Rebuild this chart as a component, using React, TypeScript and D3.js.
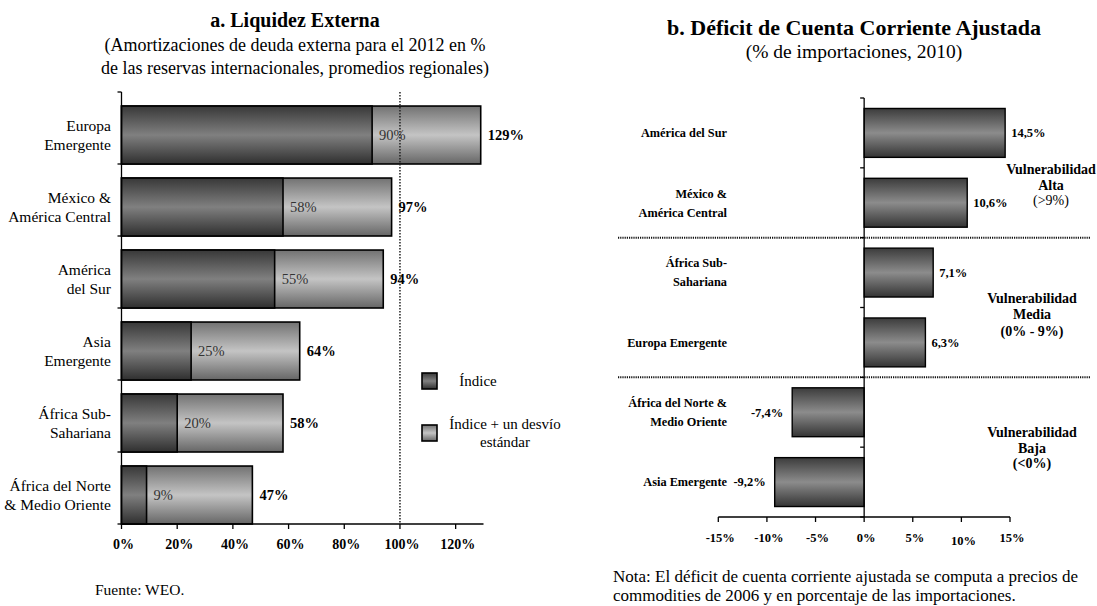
import React from "react";
import * as d3 from "d3";

// ---- Panel a: external liquidity ----
const liqCategories: string[][] = [
  ["Europa", "Emergente"],
  ["México &", "América Central"],
  ["América", "del Sur"],
  ["Asia", "Emergente"],
  ["África Sub-", "Sahariana"],
  ["África del Norte", "& Medio Oriente"],
];
const liqIndex: number[] = [90, 58, 55, 25, 20, 9];
const liqIndexPlusSd: number[] = [129, 97, 94, 64, 58, 47];
const liqTicks: number[] = [0, 20, 40, 60, 80, 100, 120];

// ---- Panel b: adjusted current account deficit ----
const cadCategories: string[][] = [
  ["América del Sur"],
  ["México &", "América Central"],
  ["África Sub-", "Sahariana"],
  ["Europa Emergente"],
  ["África del Norte &", "Medio Oriente"],
  ["Asia Emergente"],
];
const cadValues: number[] = [14.5, 10.6, 7.1, 6.3, -7.4, -9.2];
const cadTicks: number[] = [-15, -10, -5, 0, 5, 10, 15];

const SERIF = "'Liberation Serif', 'Times New Roman', serif";

const pct = (v: number) => `${v}%`;
const pctComma = (v: number) =>
  `${d3.format(".1f")(v).replace("\u2212", "-").replace(".", ",")}%`;

// multi-line label: lines centred vertically on cy
function Lines({ lines, x, cy, lh, ...rest }: any) {
  const first = -0.5 * (lines.length - 1) * lh + 0.35;
  return (
    <text x={x} y={cy} {...rest}>
      {lines.map((line: string, j: number) => (
        <tspan key={j} x={x} dy={j === 0 ? `${first}em` : `${lh}em`}>
          {line}
        </tspan>
      ))}
    </text>
  );
}

function LiquidityPanel() {
  const keys = liqCategories.map((c) => c.join(" "));
  const x = d3.scaleLinear().domain([0, 130]).range([121.5, 483.5]);
  const y = d3.scaleBand<string>().domain(keys).range([92, 524]).padding(0);
  const step = y.step();
  const barTop = (k: string) => (y(k) as number) + step * 0.195;
  const barH = step * 0.805;
  const y0 = 524;

  return (
    <g fontFamily={SERIF}>
      <text x={295} y={27} textAnchor="middle" fontSize={20} fontWeight="bold">
        a. Liquidez Externa
      </text>
      <text x={295} y={51} textAnchor="middle" fontSize={18}>
        (Amortizaciones de deuda externa para el 2012 en %
      </text>
      <text x={295} y={74} textAnchor="middle" fontSize={18}>
        de las reservas internacionales, promedios regionales)
      </text>

      {keys.map((k, i) => {
        const top = barTop(k);
        const cy = top + barH / 2;
        return (
          <g key={k}>
            <rect x={x(0)} y={top} width={x(liqIndexPlusSd[i]) - x(0)} height={barH}
              fill="url(#gLight)" stroke="#000" strokeWidth={1.6} />
            <rect x={x(0)} y={top} width={x(liqIndex[i]) - x(0)} height={barH}
              fill="url(#gDark)" stroke="#000" strokeWidth={1.6} />
            <text x={x(liqIndex[i]) + 7} y={cy} dy="0.35em" fontSize={14.5} fill="#333">
              {pct(liqIndex[i])}
            </text>
            <text x={x(liqIndexPlusSd[i]) + 7} y={cy} dy="0.35em" fontSize={14.5} fontWeight="bold">
              {pct(liqIndexPlusSd[i])}
            </text>
            <Lines lines={liqCategories[i]} x={111} cy={cy} lh={1.2}
              textAnchor="end" fontSize={15.5} />
          </g>
        );
      })}

      {/* 100% reference line */}
      <line x1={x(100)} x2={x(100)} y1={92} y2={y0} stroke="#222" strokeWidth={1.5}
        strokeDasharray="1.5,1.5" />

      {/* axes */}
      <line x1={x(0)} x2={x(0)} y1={92} y2={y0} stroke="#000" strokeWidth={1.3} />
      {[...keys.map((k) => y(k) as number), y0].map((t, i) => (
        <line key={i} x1={x(0) - 4} x2={x(0)} y1={t} y2={t} stroke="#000" strokeWidth={1.3} />
      ))}
      <line x1={x(0)} x2={x(130)} y1={y0} y2={y0} stroke="#000" strokeWidth={1.3} />
      {liqTicks.map((t) => (
        <g key={t}>
          <line x1={x(t)} x2={x(t)} y1={y0} y2={y0 + 5} stroke="#000" strokeWidth={1.3} />
          <text x={x(t) + 2} y={549} textAnchor="middle" fontSize={14} fontWeight="bold">
            {pct(t)}
          </text>
        </g>
      ))}

      {/* legend */}
      <rect x={422} y={373} width={15} height={16} fill="url(#gDark)" stroke="#000" strokeWidth={1.6} />
      <text x={478} y={381} dy="0.35em" textAnchor="middle" fontSize={15}>Índice</text>
      <rect x={422} y={425} width={15} height={16} fill="url(#gLight)" stroke="#000" strokeWidth={1.6} />
      <text x={505} y={424} dy="0.35em" textAnchor="middle" fontSize={15}>Índice + un desvío</text>
      <text x={505} y={442} dy="0.35em" textAnchor="middle" fontSize={15}>estándar</text>

      <text x={95} y={595} fontSize={15.5}>Fuente: WEO.</text>
    </g>
  );
}

function DeficitPanel() {
  const keys = cadCategories.map((c) => c.join(" "));
  const x = d3.scaleLinear().domain([-15, 15]).range([718.3, 1010]);
  const y = d3.scaleBand<string>().domain(keys).range([98, 517])
    .paddingInner(0.3).paddingOuter(0.15);
  const step = y.step();
  const bounds = d3.range(keys.length + 1).map((i) => 98 + i * step);
  const y0 = 517;

  return (
    <g fontFamily={SERIF}>
      <text x={854} y={35} textAnchor="middle" fontSize={22} fontWeight="bold">
        b. Déficit de Cuenta Corriente Ajustada
      </text>
      <text x={854} y={58} textAnchor="middle" fontSize={19.5}>
        (% de importaciones, 2010)
      </text>

      {keys.map((k, i) => {
        const v = cadValues[i];
        const top = y(k) as number;
        const h = y.bandwidth();
        const cy = top + h / 2;
        const x1 = Math.min(x(0), x(v));
        return (
          <g key={k}>
            <rect x={x1} y={top} width={Math.abs(x(v) - x(0))} height={h}
              fill="url(#gRight)" stroke="#000" strokeWidth={1.4} />
            <text x={v >= 0 ? x(v) + 6 : x(v) - 9} y={cy} dy="0.35em"
              textAnchor={v >= 0 ? "start" : "end"} fontSize={12.5} fontWeight="bold">
              {pctComma(v)}
            </text>
            <Lines lines={cadCategories[i]} x={727} cy={cy} lh={1.55}
              textAnchor="end" fontSize={12.3} fontWeight="bold" />
          </g>
        );
      })}

      {/* vulnerability band separators */}
      {[bounds[2], bounds[4]].map((b, i) => (
        <line key={i} x1={618} x2={1090} y1={b} y2={b} stroke="#111" strokeWidth={2}
          strokeDasharray="1.2,1" />
      ))}

      {/* axes */}
      <line x1={x(0)} x2={x(0)} y1={98} y2={y0} stroke="#000" strokeWidth={1.3} />
      {bounds.map((b, i) => (
        <line key={i} x1={x(0) - 4} x2={x(0)} y1={b} y2={b} stroke="#000" strokeWidth={1.3} />
      ))}
      <line x1={x(-15)} x2={x(15)} y1={y0} y2={y0} stroke="#000" strokeWidth={1.3} />
      {cadTicks.map((t) => (
        <g key={t}>
          <line x1={x(t)} x2={x(t)} y1={y0} y2={y0 + 5} stroke="#000" strokeWidth={1.3} />
          <text x={x(t) + 2} y={t === 10 ? 545 : 542} textAnchor="middle" fontSize={12.5} fontWeight="bold">
            {pct(t)}
          </text>
        </g>
      ))}

      {/* vulnerability annotations */}
      <g fontSize={14} textAnchor="middle">
        <text x={1051} y={169} dy="0.35em" fontWeight="bold">Vulnerabilidad</text>
        <text x={1051} y={185} dy="0.35em" fontWeight="bold">Alta</text>
        <text x={1051} y={200} dy="0.35em">(&gt;9%)</text>

        <text x={1032} y={298} dy="0.35em" fontWeight="bold">Vulnerabilidad</text>
        <text x={1032} y={314} dy="0.35em" fontWeight="bold">Media</text>
        <text x={1032} y={331} dy="0.35em" fontWeight="bold">(0% - 9%)</text>

        <text x={1032} y={432} dy="0.35em" fontWeight="bold">Vulnerabilidad</text>
        <text x={1032} y={448} dy="0.35em" fontWeight="bold">Baja</text>
        <text x={1032} y={463} dy="0.35em" fontWeight="bold">(&lt;0%)</text>
      </g>

      <text x={613} y={582} fontSize={17}>
        Nota: El déficit de cuenta corriente ajustada se computa a precios de
      </text>
      <text x={613} y={601} fontSize={17}>
        commodities de 2006 y en porcentaje de las importaciones.
      </text>
    </g>
  );
}

export default function App() {
  return (
    <svg width={1097} height={606} viewBox="0 0 1097 606"
      style={{ position: "fixed", left: 0, top: 0, background: "#fff" }}>
      <defs>
        <linearGradient id="gDark" x1="0" y1="0" x2="0" y2="1">
          <stop offset="0" stopColor="#383838" />
          <stop offset="0.5" stopColor="#808080" />
          <stop offset="1" stopColor="#2f2f2f" />
        </linearGradient>
        <linearGradient id="gLight" x1="0" y1="0" x2="0" y2="1">
          <stop offset="0" stopColor="#727272" />
          <stop offset="0.5" stopColor="#c4c4c4" />
          <stop offset="1" stopColor="#666666" />
        </linearGradient>
        <linearGradient id="gRight" x1="0" y1="0" x2="0" y2="1">
          <stop offset="0" stopColor="#3c3c3c" />
          <stop offset="0.5" stopColor="#8c8c8c" />
          <stop offset="1" stopColor="#343434" />
        </linearGradient>
      </defs>
      <rect width={1097} height={606} fill="#fff" />
      <LiquidityPanel />
      <DeficitPanel />
    </svg>
  );
}
